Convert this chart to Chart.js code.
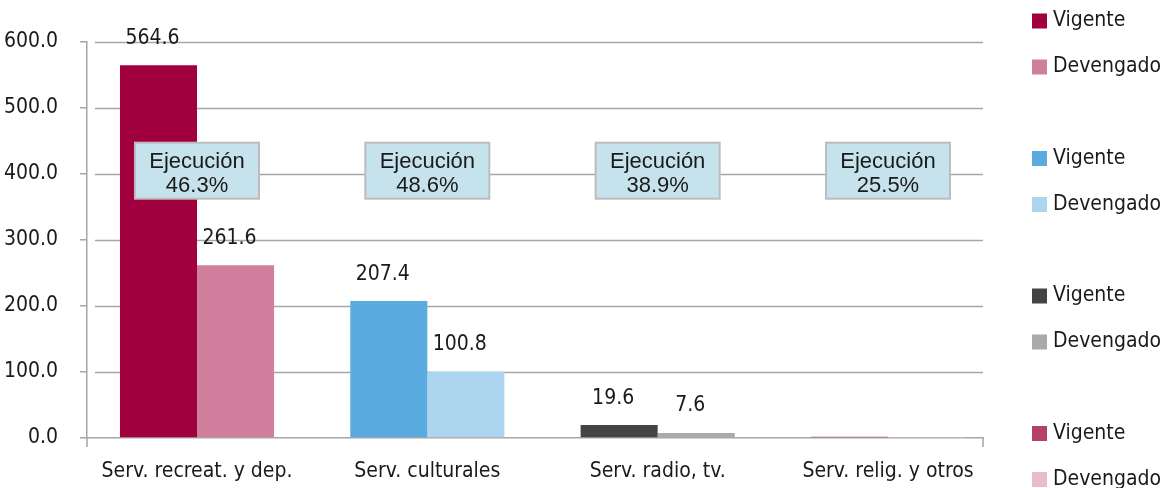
<!DOCTYPE html>
<html>
<head>
<meta charset="utf-8">
<script src="https://cdn.jsdelivr.net/npm/chart.js@4.4.1/dist/chart.umd.min.js"></script>
<style>
  html, body { margin: 0; padding: 0; background: #fff; }
  #wrap { width: 1163px; height: 488px; position: relative; }
</style>
</head>
<body>
<div id="wrap"><canvas id="myChart"></canvas></div>
<script>
const categories = ['Serv. recreat. y dep.', 'Serv. culturales', 'Serv. radio, tv.', 'Serv. relig. y otros'];
const vigente = [564.6, 207.4, 19.6, 2.0];
const devengado = [261.6, 100.8, 7.6, 0.5];
const ejecucion = [46.3, 48.6, 38.9, 25.5];
const yTicks = [0, 100, 200, 300, 400, 500, 600];
const vigenteColors = ['#a1003f', '#5aabe0', '#444444', '#b5406e'];
const devengadoColors = ['#cf7f9c', '#aed5ef', '#aaaaaa', '#e8bccd'];

const condensed = "'Liberation Sans Narrow', 'DejaVu Sans Condensed', 'Roboto Condensed', sans-serif";
const regular = "'Liberation Sans', Arial, sans-serif";
const axisGrey = '#a6a6a6';
const textColor = '#1a1a1a';

// one pair of datasets per category, nulls elsewhere so each group has only 2 bars
const datasets = [];
categories.forEach((cat, k) => {
  datasets.push({
    label: 'Vigente',
    data: categories.map((c, i) => ({ x: i, y: i === k ? vigente[k] : null })),
    backgroundColor: vigenteColors[k]
  });
  datasets.push({
    label: 'Devengado',
    data: categories.map((c, i) => ({ x: i, y: i === k ? devengado[k] : null })),
    backgroundColor: devengadoColors[k]
  });
});

const overlay = {
  id: 'overlay',
  beforeDatasetsDraw(chart) {
    // gridlines start a little right of the y axis, like the original
    const { ctx, chartArea, scales: { y } } = chart;
    ctx.save();
    ctx.strokeStyle = axisGrey;
    ctx.lineWidth = 1.5;
    yTicks.forEach(v => {
      if (v === 0) return;
      const py = Math.round(y.getPixelForValue(v)) + 0.5;
      ctx.beginPath();
      ctx.moveTo(chartArea.left + 8, py);
      ctx.lineTo(chartArea.right, py);
      ctx.stroke();
    });
    // small ticks below the x axis at both ends
    ctx.beginPath();
    ctx.moveTo(chartArea.left, chartArea.bottom);
    ctx.lineTo(chartArea.left, chartArea.bottom + 9);
    ctx.moveTo(chartArea.right, chartArea.bottom);
    ctx.lineTo(chartArea.right, chartArea.bottom + 9);
    ctx.stroke();
    ctx.restore();
  },
  afterDatasetsDraw(chart) {
    const { ctx, scales: { x, y } } = chart;
    ctx.save();
    // value labels
    ctx.font = '21px ' + condensed;
    ctx.fillStyle = textColor;
    ctx.textAlign = 'center';
    ctx.textBaseline = 'middle';
    chart.data.datasets.forEach((ds, di) => {
      chart.getDatasetMeta(di).data.forEach((bar, i) => {
        const v = ds.data[i].y;
        if (v === null || v < 5) return;
        ctx.fillText(v.toFixed(1), bar.x - 6, bar.y - 27);
      });
    });
    // ejecucion boxes
    categories.forEach((c, i) => {
      const cx = x.getPixelForValue(i);
      const cy = y.getPixelForValue(405);
      const w = 124, h = 56;
      ctx.fillStyle = '#c6e2ec';
      ctx.fillRect(cx - w / 2, cy - h / 2, w, h);
      ctx.strokeStyle = '#bdbdbd';
      ctx.lineWidth = 2;
      ctx.strokeRect(cx - w / 2, cy - h / 2, w, h);
      ctx.fillStyle = textColor;
      ctx.font = '22px ' + regular;
      ctx.fillText('Ejecución', cx, cy - 9);
      ctx.fillText(ejecucion[i].toFixed(1) + '%', cx, cy + 15);
    });
    ctx.restore();
  },
  afterDraw(chart) {
    // legend: four pairs stacked on the right
    const ctx = chart.ctx;
    ctx.save();
    ctx.font = '21px ' + condensed;
    ctx.textAlign = 'left';
    ctx.textBaseline = 'middle';
    chart.data.datasets.forEach((ds, di) => {
      const pair = Math.floor(di / 2), j = di % 2;
      const cy = 21 + pair * 137.5 + j * 46;
      ctx.fillStyle = ds.backgroundColor;
      ctx.fillRect(1032, cy - 7.5, 15, 15);
      ctx.fillStyle = textColor;
      ctx.fillText(ds.label, 1053, cy);
    });
    ctx.restore();
  }
};

const ctx = document.getElementById('myChart').getContext('2d');
new Chart(ctx, {
  type: 'bar',
  data: { datasets: datasets },
  options: {
    responsive: true,
    maintainAspectRatio: false,
    animation: false,
    categoryPercentage: 0.669,
    barPercentage: 1,
    skipNull: true,
    layout: { padding: { top: 42, right: 180, left: 0, bottom: 0 } },
    plugins: {
      legend: { display: false },
      tooltip: { enabled: false }
    },
    scales: {
      x: {
        type: 'linear',
        offset: false,
        min: -0.4776,
        max: 3.4125,
        afterBuildTicks: (scale) => { scale.ticks = categories.map((c, i) => ({ value: i })); },
        afterFit: (scale) => { scale.height = 50; },
        grid: { display: false },
        border: { display: true, color: axisGrey, width: 1.5 },
        ticks: {
          autoSkip: false,
          maxRotation: 0,
          padding: 13,
          color: textColor,
          font: { family: condensed, size: 21 },
          callback: (v) => categories[v] ?? ''
        }
      },
      y: {
        min: 0,
        max: 600,
        afterBuildTicks: (scale) => { scale.ticks = yTicks.map(v => ({ value: v })); },
        afterFit: (scale) => { scale.width = 87; },
        grid: { drawOnChartArea: false, drawTicks: true, tickLength: 7, color: axisGrey, lineWidth: 1.5 },
        border: { display: true, color: axisGrey, width: 1.5 },
        ticks: {
          padding: 22,
          color: textColor,
          font: { family: condensed, size: 21 },
          callback: (v) => v.toFixed(1)
        }
      }
    }
  },
  plugins: [overlay]
});
</script>
</body>
</html>
